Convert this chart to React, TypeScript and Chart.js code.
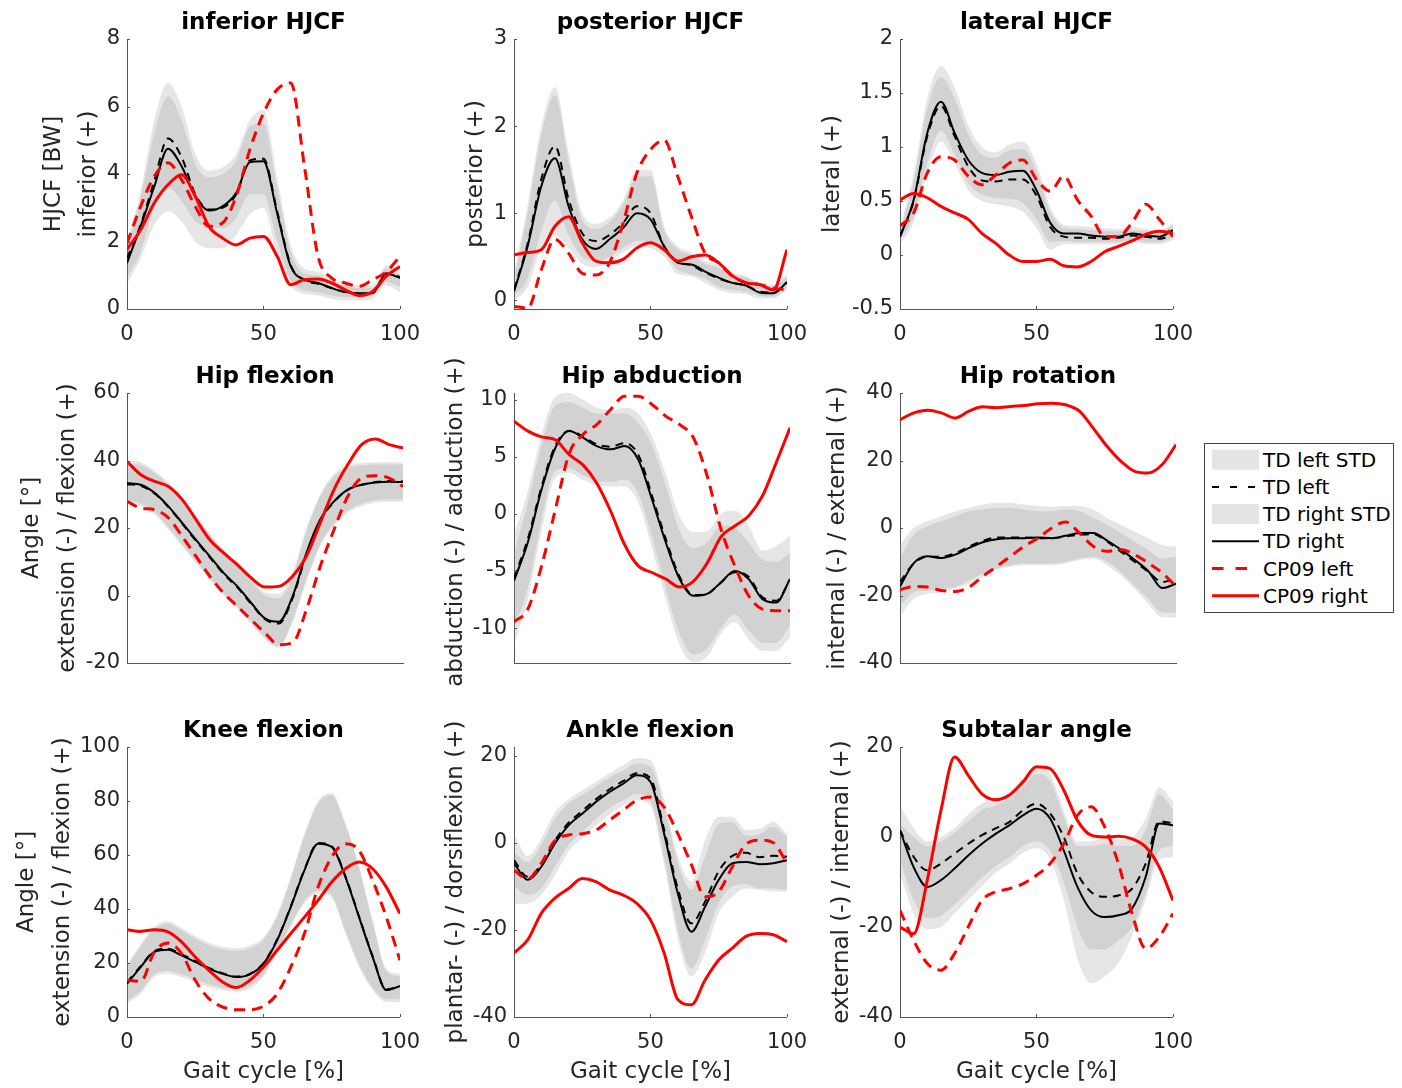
import React, { useEffect, useRef } from "react";
import { Chart, registerables } from "chart.js";

Chart.register(...registerables);

// ---------------- DATA ----------------
const gaitCycle = [0, 5, 10, 15, 20, 25, 30, 35, 40, 45, 50, 55, 60, 65, 70, 75, 80, 85, 90, 95, 100];
const xTickStep = 50;
const legendLabels = ["TD left STD", "TD left", "TD right STD", "TD right", "CP09 left", "CP09 right"];

// inferior HJCF
const infTdLeft = [1.5, 2.5, 3.8, 5.05, 4.5, 3.4, 2.95, 3.0, 3.4, 4.4, 4.45, 2.9, 1.3, 0.85, 0.75, 0.62, 0.5, 0.45, 0.48, 1.05, 0.95];
const infTdRight = [1.36, 2.45, 3.63, 4.75, 4.23, 3.34, 2.92, 3.04, 3.44, 4.35, 4.38, 2.84, 1.26, 0.87, 0.77, 0.62, 0.5, 0.47, 0.47, 1.05, 0.92];
const infCpLeft = [1.95, 3.04, 3.93, 4.33, 3.83, 3.04, 2.45, 2.55, 3.34, 4.72, 5.8, 6.5, 6.7, 4.23, 1.56, 0.92, 0.77, 0.67, 0.87, 1.1, 1.56];
const infCpRight = [1.76, 2.35, 3.14, 3.68, 3.98, 3.34, 2.45, 2.1, 1.9, 2.1, 2.15, 1.56, 0.72, 0.87, 0.89, 0.77, 0.57, 0.4, 0.52, 0.97, 1.26];
const infLeftStdUp = [2.0, 3.5, 5.6, 6.7, 6.0, 4.6, 4.1, 4.2, 4.6, 5.6, 5.9, 3.9, 1.9, 1.2, 1.1, 0.9, 0.8, 0.7, 0.7, 1.3, 1.1];
const infLeftStdLow = [0.95, 1.7, 3.0, 3.6, 3.2, 2.6, 2.45, 2.4, 2.7, 3.4, 3.4, 2.0, 0.85, 0.55, 0.5, 0.4, 0.35, 0.35, 0.4, 0.8, 0.65];
const infRightStdUp = [1.8, 3.3, 5.2, 6.3, 5.6, 4.3, 3.9, 4.0, 4.4, 5.4, 5.5, 3.6, 1.7, 1.05, 1.0, 0.8, 0.7, 0.62, 0.62, 1.2, 1.0];
const infRightStdLow = [0.75, 1.5, 2.5, 2.9, 2.6, 2.0, 1.8, 1.8, 2.2, 2.8, 3.0, 1.6, 0.7, 0.45, 0.4, 0.3, 0.25, 0.25, 0.3, 0.7, 0.5];

// posterior HJCF
const posTdLeft = [0.12, 0.65, 1.39, 1.77, 1.16, 0.77, 0.68, 0.75, 0.89, 1.08, 1.0, 0.62, 0.44, 0.4, 0.32, 0.25, 0.2, 0.17, 0.1, 0.09, 0.2];
const posTdRight = [0.1, 0.62, 1.31, 1.63, 1.08, 0.7, 0.59, 0.7, 0.83, 1.0, 0.93, 0.62, 0.43, 0.41, 0.33, 0.26, 0.2, 0.17, 0.09, 0.08, 0.21];
const posCpLeft = [-0.07, -0.09, 0.35, 0.7, 0.54, 0.31, 0.29, 0.43, 0.89, 1.46, 1.73, 1.84, 1.42, 0.96, 0.54, 0.43, 0.28, 0.2, 0.18, 0.14, 0.12];
const posCpRight = [0.52, 0.55, 0.58, 0.85, 0.96, 0.66, 0.45, 0.43, 0.47, 0.6, 0.66, 0.58, 0.45, 0.5, 0.52, 0.43, 0.28, 0.2, 0.18, 0.12, 0.58];
const posLeftStdUp = [0.3, 1.1, 2.0, 2.45, 1.7, 1.0, 0.88, 0.95, 1.15, 1.5, 1.5, 0.85, 0.62, 0.55, 0.45, 0.4, 0.32, 0.28, 0.2, 0.18, 0.3];
const posLeftStdLow = [0.05, 0.25, 0.8, 1.15, 0.75, 0.5, 0.45, 0.5, 0.6, 0.68, 0.68, 0.55, 0.35, 0.3, 0.25, 0.15, 0.12, 0.1, 0.05, 0.04, 0.15];
const posRightStdUp = [0.25, 1.0, 1.9, 2.35, 1.6, 0.92, 0.82, 0.9, 1.1, 1.42, 1.42, 0.8, 0.58, 0.52, 0.42, 0.37, 0.3, 0.26, 0.18, 0.16, 0.27];
const posRightStdLow = [0.0, 0.15, 0.6, 0.75, 0.6, 0.42, 0.38, 0.45, 0.55, 0.62, 0.6, 0.5, 0.3, 0.28, 0.2, 0.12, 0.08, 0.07, 0.02, 0.02, 0.12];

// lateral HJCF
const latTdLeft = [0.17, 0.5, 1.1, 1.38, 1.1, 0.82, 0.69, 0.68, 0.7, 0.7, 0.55, 0.26, 0.17, 0.16, 0.16, 0.15, 0.16, 0.18, 0.17, 0.15, 0.18];
const latTdRight = [0.17, 0.51, 1.13, 1.42, 1.13, 0.88, 0.76, 0.74, 0.77, 0.78, 0.6, 0.3, 0.2, 0.2, 0.18, 0.17, 0.17, 0.2, 0.18, 0.17, 0.23];
const latCpLeft = [0.27, 0.39, 0.76, 0.91, 0.88, 0.73, 0.65, 0.74, 0.85, 0.88, 0.7, 0.59, 0.73, 0.51, 0.36, 0.17, 0.17, 0.3, 0.47, 0.33, 0.17];
const latCpRight = [0.51, 0.57, 0.53, 0.45, 0.39, 0.33, 0.2, 0.11, 0.0, -0.06, -0.06, -0.04, -0.1, -0.11, -0.06, 0.03, 0.08, 0.13, 0.19, 0.22, 0.2];
const latLeftStdUp = [0.25, 0.75, 1.45, 1.75, 1.55, 1.2, 1.0, 0.95, 1.02, 1.05, 0.85, 0.45, 0.28, 0.27, 0.26, 0.25, 0.24, 0.26, 0.24, 0.22, 0.3];
const latLeftStdLow = [0.13, 0.36, 0.85, 1.15, 0.93, 0.67, 0.56, 0.53, 0.52, 0.48, 0.33, 0.12, 0.13, 0.12, 0.12, 0.12, 0.12, 0.14, 0.12, 0.12, 0.16];
const latRightStdUp = [0.22, 0.68, 1.35, 1.65, 1.45, 1.12, 0.93, 0.9, 0.97, 0.98, 0.78, 0.4, 0.25, 0.24, 0.23, 0.22, 0.22, 0.23, 0.22, 0.2, 0.27];
const latRightStdLow = [0.1, 0.3, 0.75, 1.05, 0.85, 0.6, 0.5, 0.47, 0.45, 0.4, 0.25, 0.05, 0.1, 0.1, 0.1, 0.1, 0.1, 0.12, 0.1, 0.1, 0.14];

// Hip flexion
const hfTdLeft = [33.0, 32.5, 30.2, 26.2, 21.3, 16.2, 11.3, 6.4, 2.4, -2.5, -7.0, -8.3, -0.8, 12.2, 22.2, 27.7, 31.3, 32.8, 33.6, 33.9, 33.8];
const hfTdRight = [33.3, 32.8, 30.4, 26.4, 21.5, 16.5, 11.6, 6.7, 2.7, -2.2, -6.8, -7.8, -0.25, 12.6, 22.5, 27.9, 31.4, 32.8, 33.5, 33.7, 33.6];
const hfCpLeft = [27.9, 25.9, 25.4, 23.0, 17.5, 11.6, 5.7, 0.7, -3.2, -7.2, -11.1, -14.6, -14.0, -4.2, 8.6, 19.5, 29.4, 34.8, 35.5, 34.8, 32.3];
const hfCpRight = [39.7, 35.8, 33.8, 32.3, 28.4, 22.5, 16.5, 12.6, 9.1, 5.2, 2.5, 2.7, 5.7, 11.6, 21.5, 31.4, 38.8, 44.7, 46.4, 44.7, 43.7];
const hfLeftStdUp = [40, 39.5, 37, 33.5, 28.5, 23.5, 18.5, 13.5, 9.5, 5, 1, 0.5, 7, 20, 30, 36, 38.5, 39.2, 39.5, 39.5, 39.5];
const hfLeftStdLow = [28.2, 27.2, 24.7, 20.2, 15.2, 10.2, 5.2, 0.7, -3.3, -7.8, -12.3, -14.8, -7.3, 4.7, 15.2, 21.2, 25.2, 27.2, 28.2, 28.5, 28.5];
const hfRightStdUp = [39, 38.7, 36.3, 32.8, 27.8, 22.8, 17.8, 12.8, 8.8, 4.2, 0, -0.8, 5.5, 19, 29.3, 35.3, 37.8, 38.5, 38.8, 38.8, 38.8];
const hfRightStdLow = [27.5, 26.5, 24, 19.5, 14.5, 9.5, 4.5, 0, -4, -8.5, -13, -15.5, -8, 4, 14.5, 20.5, 24.5, 26.5, 27.5, 27.8, 27.8];

// Hip abduction
const abdTdLeft = [-5.6, -2.2, 2.4, 6.0, 7.3, 6.8, 6.1, 5.9, 6.2, 5.2, 1.6, -2.2, -5.5, -7.1, -7.0, -6.0, -5.1, -5.5, -7.3, -7.6, -5.8];
const abdTdRight = [-5.86, -2.5, 2.16, 5.8, 7.26, 6.68, 5.95, 5.66, 5.95, 4.78, 1.28, -2.5, -5.7, -7.17, -7.0, -6.0, -5.0, -5.7, -7.46, -7.76, -5.7];
const abdCpLeft = [-9.45, -8.34, -4.55, 0.41, 5.3, 6.97, 7.84, 9.15, 10.32, 10.32, 9.6, 8.57, 7.84, 6.68, 3.32, -1.34, -4.55, -7.17, -8.34, -8.48, -8.48];
const abdCpRight = [8.13, 7.26, 6.76, 6.5, 5.2, 4.3, 2.7, 0.26, -2.65, -4.55, -5.13, -5.7, -6.4, -5.9, -4.3, -2.0, -1.05, -0.17, 1.57, 4.49, 7.55];
const abdLeftStdUp = [-1.8, 2, 7, 10.3, 10.6, 10, 9.3, 9.1, 9.3, 8.8, 6.8, 3.5, -0.2, -1.6, -1.5, 0, 0.3, -1, -3.2, -2.8, -1.9];
const abdLeftStdLow = [-10, -6.5, -0.5, 3.8, 4.0, 3.4, 2.9, 2.8, 3.0, 1.8, -2, -6.5, -10.5, -12.3, -11.8, -10, -8.8, -10.2, -11.3, -11.3, -9.8];
const abdRightStdUp = [-3.5, 1, 6, 9.5, 9.8, 9.3, 8.8, 8.8, 8.8, 8, 6, 2.5, -1.5, -3, -2.5, -1, -1.2, -2.5, -4, -4.2, -3.4];
const abdRightStdLow = [-11.5, -7.5, -1.5, 3.2, 3.6, 3.0, 2.5, 2.4, 2.4, 1.0, -3, -7.5, -11.5, -13, -12.5, -10.5, -9.5, -11, -12, -12, -10.8];

// Hip rotation
const hrTdLeft = [-16, -10.5, -8.5, -8.5, -7.5, -5.5, -3.8, -2.8, -2.8, -2.8, -3.0, -3.0, -2.5, -2.0, -1.8, -4.0, -7.0, -10.0, -13.0, -16.0, -15.0];
const hrTdRight = [-17.3, -10.4, -8.4, -8.9, -7.9, -5.9, -4.2, -3.3, -3.0, -3.0, -2.8, -3.0, -2.3, -1.5, -1.5, -3.7, -6.4, -9.4, -12.8, -17.8, -16.5];
const hrCpLeft = [-18.3, -17.3, -17.5, -18.5, -18.8, -17.5, -14.3, -11.4, -8.4, -5.4, -3.0, 0, 1.8, -1.5, -5.4, -6.9, -6.4, -7.9, -10.4, -13.3, -17.3];
const hrCpRight = [32.1, 34.1, 34.9, 34.1, 32.6, 34.6, 35.9, 35.6, 36.0, 36.3, 36.8, 37.0, 36.5, 34.6, 29.6, 24.2, 19.8, 16.8, 16.3, 18.8, 24.7];
const hrLeftStdUp = [-5, 0, 2, 3.5, 5, 6, 7, 7.5, 7.5, 7, 6.5, 6.3, 6.5, 6.5, 5.5, 3, 1, -1, -3, -5, -5.5];
const hrLeftStdLow = [-23, -19, -18.5, -18, -17.5, -15.5, -13.5, -12, -11, -10.5, -10.5, -10.5, -10, -9, -8.5, -10, -13, -17, -21, -25, -25];
const hrRightStdUp = [-9, -2, 0.5, 2, 3.5, 5, 5.5, 6, 6, 5.5, 5, 5, 5.5, 5, 3, 1, -1.5, -4, -6.5, -9, -8.5];
const hrRightStdLow = [-26, -21, -19.5, -19, -18, -16.5, -14.5, -12.5, -11.5, -11, -11, -11, -10.5, -9.5, -9, -11, -14, -18, -22.5, -26.5, -26.5];

// Knee flexion
const knTdLeft = [12.8, 18.8, 24.4, 25.3, 23.2, 20.8, 18.2, 16.2, 15.0, 16.0, 20.0, 28.7, 41.0, 54.6, 64.4, 63.2, 52.2, 37.3, 22.5, 10.2, 11.5];
const knTdRight = [12.3, 18.5, 24.1, 24.9, 22.8, 20.4, 17.9, 16.0, 14.8, 15.8, 19.8, 28.4, 40.7, 54.3, 64.2, 63.0, 51.9, 37.0, 22.2, 10.0, 11.4];
const knCpLeft = [13.6, 13.2, 24.0, 27.4, 23.5, 13.6, 6.8, 3.7, 2.7, 2.7, 4.0, 8.6, 18.5, 30.9, 48.1, 59.3, 64.2, 61.7, 50.6, 37.0, 21.0];
const knCpRight = [32.3, 31.7, 32.3, 31.5, 27.8, 22.2, 17.3, 13.0, 10.9, 13.6, 18.5, 24.7, 30.9, 37.0, 43.2, 50.0, 54.9, 57.4, 54.9, 48.1, 38.3];
const knLeftStdUp = [19.5, 27, 33.5, 35.5, 33, 30, 27.5, 26, 25.5, 26.5, 29.5, 38, 52, 68, 80, 83, 72, 56, 36, 18, 16];
const knLeftStdLow = [6, 9.6, 15.8, 17, 15.8, 14, 12.1, 10.9, 10.3, 11.5, 15.8, 24.5, 34.3, 43, 46.7, 45, 32, 19.5, 10.9, 6.6, 6.6];
const knRightStdUp = [18.5, 26, 32.5, 34.5, 32, 29, 26.5, 25, 24.5, 25.5, 28.5, 37, 51, 67, 79, 82, 71, 55, 35, 17, 15];
const knRightStdLow = [5, 8.6, 14.8, 16, 14.8, 13, 11.1, 9.9, 9.3, 10.5, 14.8, 23.5, 33.3, 42, 45.7, 44, 31, 18.5, 9.9, 5.6, 5.6];

// Ankle flexion
const ankTdLeft = [-4, -7.8, -5, 0.5, 4.6, 7.3, 10, 12.3, 14.2, 16, 14.8, 3, -10.5, -18.5, -13.5, -6.5, -3, -2.3, -3.3, -3, -3.2];
const ankTdRight = [-4.7, -8.5, -5.5, -0.15, 4.0, 6.7, 9.4, 11.7, 13.6, 15.5, 14.0, 2.1, -11.6, -20.4, -14.7, -8.5, -4.7, -4.4, -4.9, -4.7, -4.0];
const ankCpLeft = [-6.3, -8.3, -4.7, 0.5, 1.8, 2.1, 2.9, 5.2, 7.5, 9.8, 10.5, 8.2, 2.1, -5.0, -12.4, -11.2, -5.5, -0.3, 0.6, 0.0, -4.7];
const ankCpRight = [-25.3, -22.3, -16.2, -12.7, -10.5, -8.2, -8.9, -10.8, -12.0, -13.9, -17.7, -25.3, -36.0, -37.2, -31.5, -26.9, -24.2, -21.5, -20.8, -21.1, -22.7];
const ankLeftStdUp = [2, -3, 1, 7, 10, 12, 14, 16, 17.8, 19.5, 19, 10, -3, -8.9, 0.6, 6, 6, 3, 3.3, 4.8, 2.1];
const ankLeftStdLow = [-10, -12, -10.5, -5.5, -0.5, 2.5, 5.5, 8, 9.8, 11.2, 9.5, -3.5, -20, -28.8, -22.3, -13.9, -10, -9.5, -10.5, -10.5, -10.8];
const ankRightStdUp = [-2, -4.5, -0.5, 5.5, 9, 11, 13, 15, 16.6, 18.2, 17.5, 8.5, -4.5, -10.8, -3.2, 4.4, 4.8, 1.6, 2.1, 3.7, 1.4];
const ankRightStdLow = [-14, -14, -12, -7.5, -2, 1, 4, 6.5, 8.5, 9.8, 8.5, -5, -22, -30.7, -25.3, -16.2, -12.4, -10.5, -10.8, -11.2, -11.2];

// Subtalar angle
const subTdLeft = [1.5, -4.4, -7.4, -5.9, -3.7, -1.5, 0.4, 1.9, 3.3, 5.9, 7.4, 5.2, 0, -8.1, -12.2, -13.3, -13.0, -11.5, -5.9, 3.5, 3.0];
const subTdRight = [1.5, -6.7, -11.1, -9.6, -7.0, -4.1, -1.5, 0.7, 2.6, 4.8, 6.3, 4.1, -3.0, -11.1, -16.3, -17.8, -17.4, -15.9, -8.9, 3.0, 2.6];
const subCpLeft = [-16.3, -23, -28.1, -29.6, -25.9, -20.0, -14.1, -12.2, -11.5, -10.4, -8.5, -5.9, -1.5, 4.8, 6.7, 2.2, -5.9, -17.0, -24.8, -22.2, -17.0];
const subCpRight = [-20, -21.5, -9.6, 5.9, 17.8, 13.7, 9.6, 8.3, 9.3, 12.2, 15.6, 15.2, 10.4, 3.7, 0.4, 0, 0.15, -0.4, -2.2, -6.7, -14.1];
const subLeftStdUp = [7, 2, -1, 0, 2, 5, 7.5, 8.5, 10, 13, 15.5, 14, 6, -1, -1, 0, -0.5, 0, 4, 11, 8];
const subLeftStdLow = [-5, -14, -18, -17.5, -15, -12, -9, -6.5, -4.5, -2, -1, -3, -10, -20, -25, -25, -23, -20, -12.5, -3, -2];
const subRightStdUp = [3, 0, -2, -1, 1, 3.5, 6, 7, 8.5, 11, 14, 12.5, 4.5, -2, -2, -1.5, -2, -2, 1.5, 9.5, 6];
const subRightStdLow = [-8, -17, -20.5, -20, -17, -14, -11, -8, -6, -3.5, -2.5, -5, -14, -27, -32.5, -31, -28, -22, -14, -5, -4.5];

// ---------------- LAYOUT / STYLE ----------------
const COL_X = [127, 514, 900];
const ROW_Y = [39, 393, 747];
const PLOT_W = 276;
const PLOT_H = 270;
const Y_AXIS_W = 130;
const TOP_PAD = 45;
const RIGHT_PAD = 30;
const X_AXIS_H = 85;
const CANVAS_W = Y_AXIS_W + PLOT_W + RIGHT_PAD;
const CANVAS_H = TOP_PAD + PLOT_H + X_AXIS_H;
const FONT = '"DejaVu Sans"';
const AXIS_COLOR = "#555555";
const TEXT_COLOR = "#262626";
const BAND_COLOR = "rgba(128,128,128,0.2)";

type YLine = { text: string; dx: number };
type PanelDef = {
  title: string;
  yLines: YLine[];
  yDy?: number;
  yMin: number;
  yMax: number;
  yStep: number;
  col: number;
  row: number;
  xLabels: boolean;
  xTitle?: string;
  leftStd: [number[], number[]];
  rightStd: [number[], number[]];
  tdLeft: number[];
  tdRight: number[];
  cpLeft: number[];
  cpRight: number[];
};

const panels: PanelDef[] = [
  { title: "inferior HJCF", yLines: [{ text: "HJCF [BW]", dx: -73 }, { text: "inferior (+)", dx: -38 }], yMin: 0, yMax: 8, yStep: 2, col: 0, row: 0, xLabels: true,
    leftStd: [infLeftStdLow, infLeftStdUp], rightStd: [infRightStdLow, infRightStdUp], tdLeft: infTdLeft, tdRight: infTdRight, cpLeft: infCpLeft, cpRight: infCpRight },
  { title: "posterior HJCF", yLines: [{ text: "posterior (+)", dx: -38 }], yMin: -0.1, yMax: 3, yStep: 1, col: 1, row: 0, xLabels: true,
    leftStd: [posLeftStdLow, posLeftStdUp], rightStd: [posRightStdLow, posRightStdUp], tdLeft: posTdLeft, tdRight: posTdRight, cpLeft: posCpLeft, cpRight: posCpRight },
  { title: "lateral HJCF", yLines: [{ text: "lateral (+)", dx: -67 }], yMin: -0.5, yMax: 2, yStep: 0.5, col: 2, row: 0, xLabels: true,
    leftStd: [latLeftStdLow, latLeftStdUp], rightStd: [latRightStdLow, latRightStdUp], tdLeft: latTdLeft, tdRight: latTdRight, cpLeft: latCpLeft, cpRight: latCpRight },
  { title: "Hip flexion", yLines: [{ text: "Angle [°]", dx: -95 }, { text: "extension (-) / flexion (+)", dx: -59 }], yMin: -20, yMax: 60, yStep: 20, col: 0, row: 1, xLabels: false,
    leftStd: [hfLeftStdLow, hfLeftStdUp], rightStd: [hfRightStdLow, hfRightStdUp], tdLeft: hfTdLeft, tdRight: hfTdRight, cpLeft: hfCpLeft, cpRight: hfCpRight },
  { title: "Hip abduction", yLines: [{ text: "abduction (-) / adduction (+)", dx: -58 }], yDy: -6, yMin: -13.06, yMax: 10.6, yStep: 5, col: 1, row: 1, xLabels: false,
    leftStd: [abdLeftStdLow, abdLeftStdUp], rightStd: [abdRightStdLow, abdRightStdUp], tdLeft: abdTdLeft, tdRight: abdTdRight, cpLeft: abdCpLeft, cpRight: abdCpRight },
  { title: "Hip rotation", yLines: [{ text: "internal (-) / external (+)", dx: -62 }], yMin: -40, yMax: 40, yStep: 20, col: 2, row: 1, xLabels: false,
    leftStd: [hrLeftStdLow, hrLeftStdUp], rightStd: [hrRightStdLow, hrRightStdUp], tdLeft: hrTdLeft, tdRight: hrTdRight, cpLeft: hrCpLeft, cpRight: hrCpRight },
  { title: "Knee flexion", yLines: [{ text: "Angle [°]", dx: -100 }, { text: "extension (-) / flexion (+)", dx: -64 }], yMin: 0, yMax: 100, yStep: 20, col: 0, row: 2, xLabels: true, xTitle: "Gait cycle [%]",
    leftStd: [knLeftStdLow, knLeftStdUp], rightStd: [knRightStdLow, knRightStdUp], tdLeft: knTdLeft, tdRight: knTdRight, cpLeft: knCpLeft, cpRight: knCpRight },
  { title: "Ankle flexion", yLines: [{ text: "plantar- (-) / dorsiflexion (+)", dx: -58 }], yMin: -40, yMax: 22, yStep: 20, col: 1, row: 2, xLabels: true, xTitle: "Gait cycle [%]",
    leftStd: [ankLeftStdLow, ankLeftStdUp], rightStd: [ankRightStdLow, ankRightStdUp], tdLeft: ankTdLeft, tdRight: ankTdRight, cpLeft: ankCpLeft, cpRight: ankCpRight },
  { title: "Subtalar angle", yLines: [{ text: "external (-) / internal (+)", dx: -58 }], yMin: -40, yMax: 20, yStep: 20, col: 2, row: 2, xLabels: true, xTitle: "Gait cycle [%]",
    leftStd: [subLeftStdLow, subLeftStdUp], rightStd: [subRightStdLow, subRightStdUp], tdLeft: subTdLeft, tdRight: subTdRight, cpLeft: subCpLeft, cpRight: subCpRight },
];

const toPts = (ys: number[]) => gaitCycle.map((x, i) => ({ x, y: ys[i] }));
const fmtTick = (v: any) => String(Math.round(Number(v) * 1000) / 1000);

function makeDecor(p: PanelDef) {
  return {
    id: "panelDecor",
    afterDraw(chart: any) {
      const { ctx, chartArea: a } = chart;
      const cx = (a.left + a.right) / 2;
      const cy = (a.top + a.bottom) / 2;
      ctx.save();
      ctx.strokeStyle = AXIS_COLOR;
      ctx.lineWidth = 1;
      const ys = chart.scales.y;
      ys.ticks.forEach((t: any) => {
        const py = Math.round(ys.getPixelForValue(t.value)) + 0.5;
        ctx.beginPath();
        ctx.moveTo(a.left, py);
        ctx.lineTo(a.left + 3, py);
        ctx.stroke();
      });
      if (p.xLabels) {
        const xs = chart.scales.x;
        xs.ticks.forEach((t: any) => {
          const px = Math.round(xs.getPixelForValue(t.value)) + 0.5;
          ctx.beginPath();
          ctx.moveTo(px, a.bottom);
          ctx.lineTo(px, a.bottom - 3);
          ctx.stroke();
        });
      }
      ctx.textAlign = "center";
      ctx.textBaseline = "middle";
      ctx.fillStyle = "#000000";
      ctx.font = `bold 23px ${FONT}`;
      ctx.fillText(p.title, cx, a.top - 16);
      ctx.fillStyle = TEXT_COLOR;
      ctx.font = `23px ${FONT}`;
      p.yLines.forEach((ln) => {
        ctx.save();
        ctx.translate(a.left + ln.dx, cy + (p.yDy || 0));
        ctx.rotate(-Math.PI / 2);
        ctx.fillText(ln.text, 0, 0);
        ctx.restore();
      });
      if (p.xTitle) ctx.fillText(p.xTitle, cx, a.bottom + 55);
      ctx.restore();
    },
  };
}

function PanelChart({ p }: { p: PanelDef }) {
  const ref = useRef<HTMLCanvasElement>(null);
  useEffect(() => {
    const canvas = ref.current;
    if (!canvas) return;
    const bandBase = { borderWidth: 0, pointRadius: 0, backgroundColor: BAND_COLOR, cubicInterpolationMode: "monotone", order: 3 };
    const line = (data: number[], color: string, width: number, dash: number[], order: number) => ({
      data: toPts(data), borderColor: color, borderWidth: width, borderDash: dash, pointRadius: 0, fill: false,
      cubicInterpolationMode: "monotone", order,
    });
    const chart = new Chart(canvas, {
      type: "line",
      data: {
        datasets: [
          { ...bandBase, label: legendLabels[0] + " low", data: toPts(p.leftStd[0]), fill: false },
          { ...bandBase, label: legendLabels[0], data: toPts(p.leftStd[1]), fill: "-1" },
          { ...bandBase, label: legendLabels[2] + " low", data: toPts(p.rightStd[0]), fill: false },
          { ...bandBase, label: legendLabels[2], data: toPts(p.rightStd[1]), fill: "-1" },
          { label: legendLabels[1], ...line(p.tdLeft, "#000000", 2, [8, 6], 2) },
          { label: legendLabels[3], ...line(p.tdRight, "#000000", 2, [], 2) },
          { label: legendLabels[4], ...line(p.cpLeft, "#ff0000", 3, [11, 7], 1) },
          { label: legendLabels[5], ...line(p.cpRight, "#ff0000", 3, [], 1) },
        ] as any,
      },
      options: {
        animation: false,
        responsive: false,
        devicePixelRatio: 1,
        events: [],
        layout: { padding: { left: 0, top: TOP_PAD, right: RIGHT_PAD, bottom: 0 } },
        plugins: { legend: { display: false }, tooltip: { enabled: false }, title: { display: false } },
        scales: {
          x: {
            type: "linear",
            min: 0,
            max: 100,
            grid: { display: false, drawTicks: false },
            border: { display: true, color: AXIS_COLOR, width: 1 },
            ticks: { display: p.xLabels, stepSize: xTickStep, includeBounds: false, maxRotation: 0, padding: 13, color: TEXT_COLOR, font: { family: FONT, size: 21 }, callback: fmtTick },
            afterFit: (s: any) => { s.height = X_AXIS_H; },
          },
          y: {
            type: "linear",
            min: p.yMin,
            max: p.yMax,
            grid: { display: false, drawTicks: false },
            border: { display: true, color: AXIS_COLOR, width: 1 },
            ticks: { stepSize: p.yStep, includeBounds: false, padding: 7, color: TEXT_COLOR, font: { family: FONT, size: 21 }, callback: fmtTick },
            afterFit: (s: any) => { s.width = Y_AXIS_W; },
          },
        },
      } as any,
      plugins: [makeDecor(p)],
    });
    return () => chart.destroy();
  }, [p]);
  return (
    <canvas
      ref={ref}
      width={CANVAS_W}
      height={CANVAS_H}
      style={{ position: "absolute", left: COL_X[p.col] - Y_AXIS_W, top: ROW_Y[p.row] - TOP_PAD, width: CANVAS_W, height: CANVAS_H }}
    />
  );
}

function Legend() {
  const rowY = (i: number) => 17.7 + i * 27.2;
  return (
    <svg width={192} height={172} style={{ position: "absolute", left: 1203, top: 442 }}>
      <rect x={1.5} y={1.5} width={189} height={169} fill="#ffffff" stroke="#444444" strokeWidth={1} />
      <rect x={9} y={rowY(0) - 10} width={47} height={20} fill="#e4e4e4" />
      <line x1={9} x2={56} y1={rowY(1)} y2={rowY(1)} stroke="#000" strokeWidth={2} strokeDasharray="7 11" />
      <rect x={9} y={rowY(2) - 10} width={47} height={20} fill="#e4e4e4" />
      <line x1={9} x2={56} y1={rowY(3)} y2={rowY(3)} stroke="#000" strokeWidth={2} />
      <line x1={9} x2={56} y1={rowY(4)} y2={rowY(4)} stroke="#ff0000" strokeWidth={3} strokeDasharray="11.5 12" />
      <line x1={9} x2={56} y1={rowY(5)} y2={rowY(5)} stroke="#ff0000" strokeWidth={3} />
      {legendLabels.map((lab, i) => (
        <text key={lab} x={60} y={rowY(i)} dominantBaseline="central" fontFamily="DejaVu Sans" fontSize={20} fill="#000">
          {lab}
        </text>
      ))}
    </svg>
  );
}

export default function App() {
  return (
    <div style={{ position: "absolute", left: 0, top: 0, width: 1402, height: 1088, background: "#ffffff", overflow: "hidden" }}>
      {panels.map((p) => (
        <PanelChart key={p.title} p={p} />
      ))}
      <Legend />
    </div>
  );
}
